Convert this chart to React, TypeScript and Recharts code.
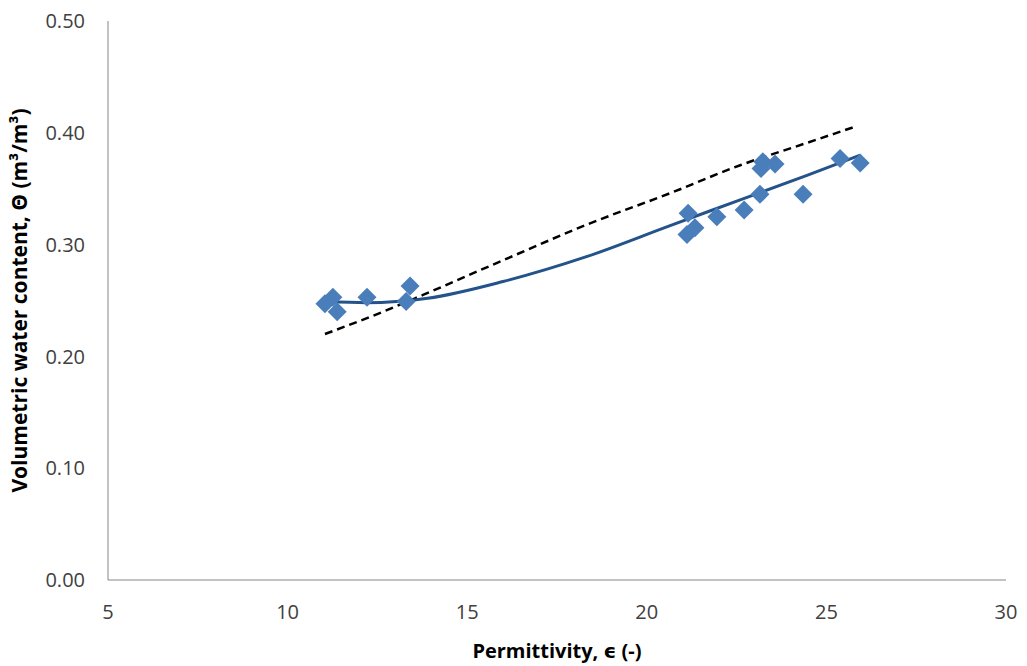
import React from "react";
import { ComposedChart, XAxis, YAxis, Scatter, Line } from "recharts";

// Measured data: permittivity (x) vs volumetric water content (y)
const measuredX = [11.04, 11.26, 11.38, 12.21, 13.41, 13.3, 21.15, 21.34, 21.12, 21.95, 22.71, 23.15, 23.23, 23.18, 23.57, 24.35, 25.38, 25.94];
const measuredY = [0.247, 0.253, 0.24, 0.253, 0.263, 0.249, 0.328, 0.315, 0.309, 0.325, 0.331, 0.345, 0.374, 0.368, 0.372, 0.345, 0.377, 0.373];

// Fitted calibration curve (solid)
const fitX = [11.04, 12.2, 13.9, 16.0, 18.3, 20.65, 22.6, 24.46, 25.94];
const fitY = [0.249, 0.248, 0.252, 0.267, 0.289, 0.317, 0.34, 0.362, 0.38];

// Reference model curve (dashed)
const refX = [11.04, 12.66, 13.77, 16.0, 18.34, 20.65, 22.6, 24.46, 25.85];
const refY = [0.22, 0.24, 0.255, 0.286, 0.318, 0.346, 0.371, 0.391, 0.406];

const xTicks = [5, 10, 15, 20, 25, 30];
const yTicks = [0, 0.1, 0.2, 0.3, 0.4, 0.5];

const measured = measuredX.map((x, i) => ({ x, y: measuredY[i] }));
const fit = fitX.map((x, i) => ({ x, y: fitY[i] }));
const ref = refX.map((x, i) => ({ x, y: refY[i] }));

const FONT = "'Open Sans', 'DejaVu Sans', sans-serif";

const Diamond = (p: any) => {
  const { cx, cy } = p;
  const r = 9.5;
  return (
    <path
      d={`M${cx},${cy - r}L${cx + r},${cy}L${cx},${cy + r}L${cx - r},${cy}Z`}
      fill="#4a7ebb"
    />
  );
};

export default function App() {
  return (
    <div style={{ position: "absolute", left: 0, top: 0, width: 1027, height: 666, background: "#fff" }}>
      <ComposedChart
        width={1027}
        height={666}
        margin={{ top: 21, right: 21, bottom: 0, left: 0 }}
      >
        <XAxis
          type="number"
          dataKey="x"
          domain={[5, 30]}
          ticks={xTicks}
          allowDataOverflow
          height={86}
          stroke="#868686"
          tickLine={false}
          tickSize={0}
          tickMargin={25}
          tick={{ fill: "#404040", fontSize: 20, fontFamily: FONT }}
          label={{
            value: "Permittivity, ϵ (-)",
            position: "insideBottom",
            offset: 8,
            style: { fill: "#000", fontSize: 20, fontWeight: 700, fontFamily: FONT },
          }}
        />
        <YAxis
          type="number"
          dataKey="y"
          domain={[0, 0.5]}
          ticks={yTicks}
          allowDataOverflow
          width={108}
          stroke="#868686"
          tickLine={false}
          tickSize={0}
          tickMargin={23}
          tickFormatter={(v: number) => v.toFixed(2)}
          tick={{ fill: "#404040", fontSize: 20, fontFamily: FONT }}
          label={{
            value: "Volumetric water content, Θ (m³/m³)",
            angle: -90,
            position: "insideLeft",
            offset: 20,
            style: { textAnchor: "middle", fill: "#000", fontSize: 21, fontWeight: 700, fontFamily: FONT },
          }}
        />
        <Scatter data={measured} dataKey="y" shape={Diamond} isAnimationActive={false} />
        <Line
          data={ref}
          dataKey="y"
          type="monotone"
          stroke="#000"
          strokeWidth={2.5}
          strokeDasharray="8 5"
          dot={false}
          activeDot={false}
          isAnimationActive={false}
        />
        <Line
          data={fit}
          dataKey="y"
          type="monotone"
          stroke="#23538a"
          strokeWidth={3}
          dot={false}
          activeDot={false}
          isAnimationActive={false}
        />
      </ComposedChart>
    </div>
  );
}
